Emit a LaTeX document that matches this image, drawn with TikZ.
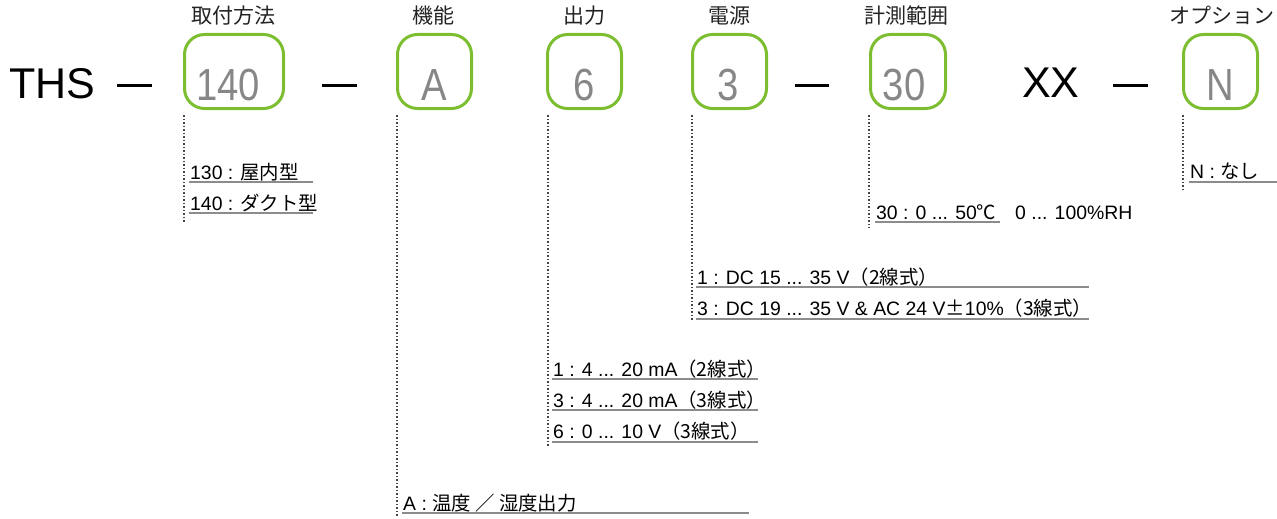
\documentclass[tikz,border=0pt]{standalone}
\usepackage{fontspec}
\setmainfont{Liberation Sans}
\newfontfamily\jp{Noto Sans CJK JP}
\newfontfamily\bigdigits[FakeStretch=0.85]{Liberation Sans}
\definecolor{boxgreen}{RGB}{124,190,48}
\definecolor{digitgrey}{RGB}{135,135,135}
\definecolor{titlegrey}{RGB}{35,35,35}
\definecolor{linegrey}{RGB}{140,140,140}
\definecolor{dotgrey}{RGB}{70,70,70}
\begin{document}
\begin{tikzpicture}[x=1pt,y=-1pt,
  codebox/.style={draw=boxgreen,line width=3pt,rounded corners=20pt,minimum height=74pt,inner sep=0pt},
  codedigit/.style={anchor=base,inner sep=0pt,text=digitgrey,font=\bigdigits\fontsize{45}{45}\selectfont},
  bigtext/.style={anchor=base west,inner sep=0pt,font=\fontsize{43}{43}\selectfont},
  title/.style={anchor=base,inner sep=0pt,text=titlegrey,font=\jp\fontsize{21}{21}\selectfont},
  opt/.style={anchor=base west,inner sep=0pt,font=\fontsize{19.4}{20}\selectfont},
  uline/.style={draw=linegrey,line width=1.2pt},
  guide/.style={draw=dotgrey,line width=1.1pt,dash pattern=on 1.5pt off 2pt},
  dashbar/.style={draw=black,line width=3pt}]
\useasboundingbox (0,0) rectangle (1277,519);

% main code
\node[bigtext] (ths) at (9,98) {THS};
\node[bigtext] (xx) at (1022,97) {XX};

\node[codebox,minimum width=99pt] (b1) at (234,71.5) {};
\node[codebox,minimum width=74pt] (b2) at (434.5,71.5) {};
\node[codebox,minimum width=74pt] (b3) at (584.5,71.5) {};
\node[codebox,minimum width=74pt] (b4) at (729.5,71.5) {};
\node[codebox,minimum width=75pt] (b5) at (908,71.5) {};
\node[codebox,minimum width=74pt] (b6) at (1220.5,71.5) {};

\node[codedigit] (d1) at (228,100) {140};
\node[codedigit] (d2) at (434.5,100) {A};
\node[codedigit] (d3) at (584.5,100) {6};
\node[codedigit] (d4) at (728,100) {3};
\node[codedigit] (d5) at (904,100) {30};
\node[codedigit] (d6) at (1220.5,100) {N};

\node[title] (t1) at (233,24) {取付方法};
\node[title] (t2) at (433,24) {機能};
\node[title] (t3) at (584,24) {出力};
\node[title] (t4) at (729,24) {電源};
\node[title] (t5) at (906,24) {計測範囲};
\node[title] (t6) at (1222,24) {オプション};

% dashes
\coordinate (h1a) at (117,85); \coordinate (h1b) at (152,85);
\coordinate (h2a) at (322,85); \coordinate (h2b) at (357,85);
\coordinate (h3a) at (795,85); \coordinate (h3b) at (829,85);
\coordinate (h4a) at (1113,85); \coordinate (h4b) at (1148,85);
\draw[dashbar] (h1a) -- (h1b);
\draw[dashbar] (h2a) -- (h2b);
\draw[dashbar] (h3a) -- (h3b);
\draw[dashbar] (h4a) -- (h4b);

% guide lines
\coordinate (g1) at (184,222);
\coordinate (g2) at (397,517);
\coordinate (g3) at (548,447);
\coordinate (g4) at (692,320);
\coordinate (g5) at (869,228);
\coordinate (g6) at (1183,190);
\draw[guide] (184,115) -- (g1);
\draw[guide] (397,115) -- (g2);
\draw[guide] (548,115) -- (g3);
\draw[guide] (692,115) -- (g4);
\draw[guide] (869,115) -- (g5);
\draw[guide] (1183,115) -- (g6);

% mounting
\node[opt] (m1) at (190,179) {130 : {\jp 屋内型}};
\draw[uline] (189,182) -- (313,182);
\node[opt] (m2) at (190,210) {140 : {\jp ダクト型}};
\draw[uline] (189,213) -- (313,213);

% function
\node[opt] (f1) at (403,510) {A : {\jp 温度 ／ 湿度出力}};
\draw[uline] (402,513) -- (749,513);

% output
\node[opt] (o1) at (553,376) {1 : 4 ... 20 mA{\jp （2線式）}};
\draw[uline] (552,379) -- (758,379);
\node[opt] (o2) at (553,407) {3 : 4 ... 20 mA{\jp （3線式）}};
\draw[uline] (552,410) -- (758,410);
\node[opt] (o3) at (553,438) {6 : 0 ... 10 V{\jp （3線式）}};
\draw[uline] (552,442) -- (758,442);

% power
\node[opt] (p1) at (697,284) {1 : DC 15 ... 35 V{\jp （2線式）}};
\draw[uline] (696,287) -- (1089,287);
\node[opt] (p2) at (697,315) {3 : DC 19 ... 35 V \& AC 24 V{\jp ±}10\%{\jp （3線式）}};
\draw[uline] (696,319) -- (1089,319);

% range
\node[opt] (r1) at (876,219) {30 : 0 ... 50{\jp ℃}};
\draw[uline] (875,222) -- (1000,222);
\node[opt] (r2) at (1015,219) {0 ... 100\%RH};

% option
\node[opt] (n1) at (1190,178) {N : {\jp なし}};
\draw[uline] (1189,182) -- (1277,182);
\end{tikzpicture}
\end{document}
